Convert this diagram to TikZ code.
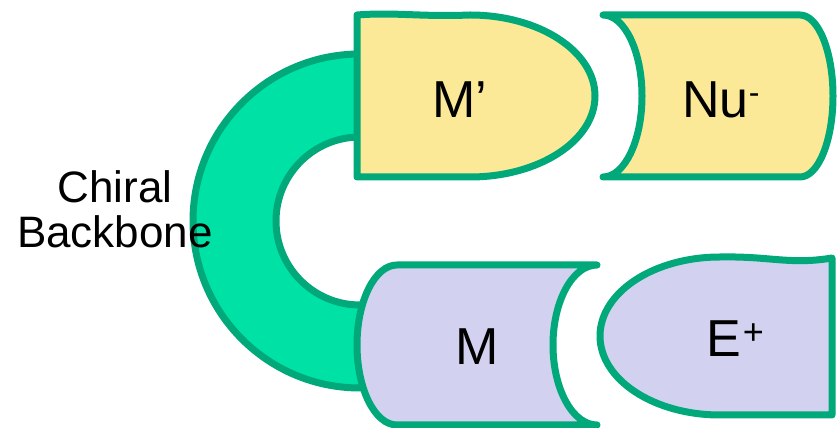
\documentclass[tikz,border=0pt]{standalone}
\usepackage{fontspec}
\setmainfont{Liberation Sans}
\definecolor{edgegreen}{RGB}{0,168,122}
\definecolor{backbonefill}{RGB}{0,225,166}
\definecolor{paleyellow}{RGB}{252,233,152}
\definecolor{lavender}{RGB}{210,210,240}
\newcommand{\charge}[3]{\raisebox{#1}{\fontsize{#2}{#2}\selectfont #3}}
\tikzset{
  part/.style={draw=edgegreen, line width=7pt, line join=round, line cap=round},
  big/.style={font=\fontsize{52}{60}\selectfont, inner sep=0pt},
  caption/.style={font=\fontsize{44}{45}\selectfont, align=center, inner sep=0pt}
}
\begin{document}
\begin{tikzpicture}[x=1pt, y=1pt]
\useasboundingbox (0,0) rectangle (838,428);

% chiral backbone: half annulus whose ends tuck under the two metal blocks
\path[part, fill=backbonefill]
  (400,374) -- (360,374) arc[start angle=90, end angle=270, radius=167]
  -- (400,40) -- (400,123) -- (360,123)
  arc[start angle=270, end angle=90, radius=84] -- (400,291) -- cycle;

% M' block (yellow, rounded right side)
\path[part, fill=paleyellow]
  (357,251) -- (357,413) .. controls (395,416) and (420,411) .. (470,413)
  arc[start angle=90, end angle=-90, x radius=125, y radius=81] -- cycle;

% Nu- block (yellow, hollow left side)
\path[part, fill=paleyellow]
  (603,413) -- (800,413)
  arc[start angle=90, end angle=-90, x radius=33, y radius=81]
  -- (603,251)
  arc[start angle=-90, end angle=90, x radius=39, y radius=81] -- cycle;

% M block (lavender, rounded left, hollow right)
\path[part, fill=lavender]
  (397,163) -- (597,163)
  arc[start angle=90, end angle=270, x radius=44, y radius=80]
  -- (397,3)
  arc[start angle=270, end angle=90, x radius=40, y radius=80] -- cycle;

% E+ block (lavender, rounded left side)
\path[part, fill=lavender]
  (832,13) -- (720,13)
  arc[start angle=270, end angle=90, x radius=120, y radius=79]
  .. controls (770,172) and (790,163) .. (832,170) -- cycle;

% labels
\node[big] (mprime) at (460,328) {M’};
\node[big] (nu) at (721,328) {Nu\charge{14pt}{32}{-}};
\node[big] (m) at (477,81) {M};
\node[big] (eplus) at (735,89) {E\kern2pt\charge{12pt}{36}{+}};
\node[caption] (backbone) at (115,219) {Chiral\\Backbone};
\end{tikzpicture}
\end{document}
